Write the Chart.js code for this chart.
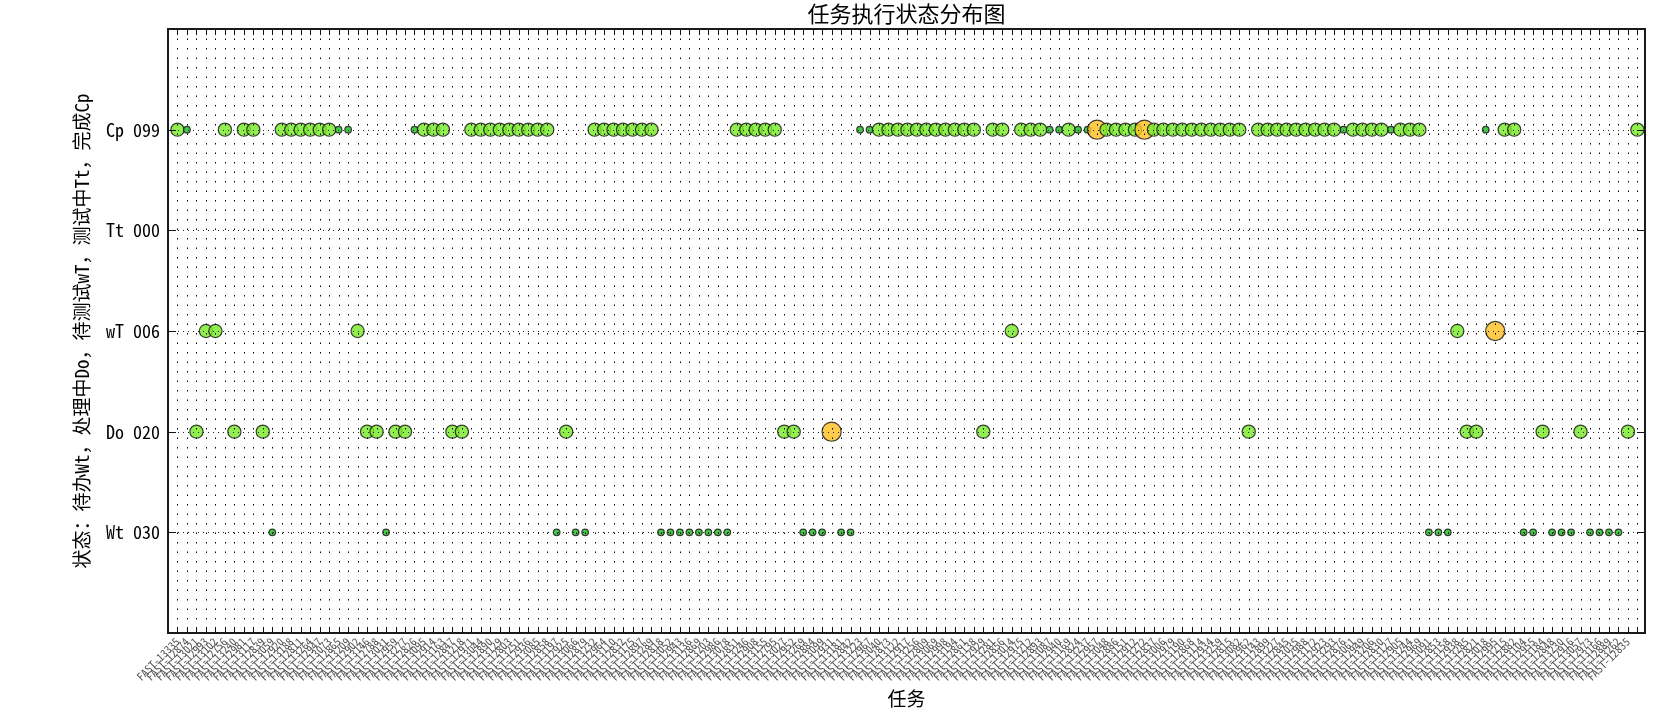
<!DOCTYPE html>
<html>
<head>
<meta charset="utf-8">
<script src="https://cdn.jsdelivr.net/npm/chart.js@4/dist/chart.umd.min.js"></script>
<style>
  html, body { margin: 0; padding: 0; background: #fff; }
  #wrap { width: 1680px; height: 720px; }
</style>
</head>
<body>
<div id="wrap"><canvas id="c" width="1680" height="720"></canvas></div>
<script>
// ---- data ----
const chartTitle = '任务执行状态分布图';
const xAxisTitle = '任务';
const yAxisTitle = '状态：待办Wt，处理中Do，待测试wT，测试中Tt，完成Cp';

const statusLabels = ['Wt 030', 'Do 020', 'wT 006', 'Tt 000', 'Cp 099'];

const tasks = [
  'FAST-13335','FAST-12874','FAST-13021','FAST-12993','FAST-13102','FAST-12756','FAST-13240','FAST-12981','FAST-13117','FAST-12839',
  'FAST-13059','FAST-12920','FAST-13188','FAST-12811','FAST-13264','FAST-12947','FAST-13073','FAST-12865','FAST-13209','FAST-12902',
  'FAST-13146','FAST-12788','FAST-13031','FAST-12959','FAST-13277','FAST-12826','FAST-13095','FAST-12914','FAST-13163','FAST-12847',
  'FAST-13218','FAST-12971','FAST-13044','FAST-12890','FAST-13129','FAST-12803','FAST-13251','FAST-12936','FAST-13085','FAST-12858',
  'FAST-13197','FAST-12925','FAST-13066','FAST-12879','FAST-13232','FAST-12964','FAST-13110','FAST-12832','FAST-13175','FAST-12897',
  'FAST-13289','FAST-12818','FAST-13052','FAST-12943','FAST-13136','FAST-12869','FAST-13203','FAST-12986','FAST-13078','FAST-12851',
  'FAST-13246','FAST-12908','FAST-13155','FAST-12795','FAST-13027','FAST-12952','FAST-13269','FAST-12884','FAST-13099','FAST-12931',
  'FAST-13181','FAST-12842','FAST-13223','FAST-12967','FAST-13040','FAST-12873','FAST-13122','FAST-12917','FAST-13256','FAST-12809',
  'FAST-13069','FAST-12998','FAST-13194','FAST-12861','FAST-13138','FAST-12929','FAST-13281','FAST-12856','FAST-13014','FAST-12975',
  'FAST-13212','FAST-12893','FAST-13087','FAST-12940','FAST-13169','FAST-12824','FAST-13237','FAST-12957','FAST-13048','FAST-12886',
  'FAST-13151','FAST-12912','FAST-13272','FAST-12837','FAST-13006','FAST-12979','FAST-13190','FAST-12868','FAST-13114','FAST-12934',
  'FAST-13259','FAST-12815','FAST-13082','FAST-12962','FAST-13143','FAST-12899','FAST-13227','FAST-12845','FAST-13035','FAST-12988',
  'FAST-13172','FAST-12923','FAST-13293','FAST-12876','FAST-13061','FAST-12949','FAST-13206','FAST-12830','FAST-13127','FAST-12905',
  'FAST-13244','FAST-12969','FAST-13091','FAST-12853','FAST-13158','FAST-12938','FAST-13285','FAST-12821','FAST-13018','FAST-12995',
  'FAST-13215','FAST-12882','FAST-13104','FAST-12955','FAST-13184','FAST-12848','FAST-13230','FAST-12916','FAST-13057','FAST-12973',
  'FAST-13166','FAST-12889','FAST-13262','FAST-12835','FAST-13985'
];

// status index per task (0 = Wt, 1 = Do, 2 = wT, 3 = Tt, 4 = Cp)
const taskStatus = [
  4,4,1,2,2,4,1,4,4,1,
  0,4,4,4,4,4,4,4,4,2,
  1,1,0,1,1,4,4,4,4,1,
  1,4,4,4,4,4,4,4,4,4,
  0,1,0,0,4,4,4,4,4,4,
  4,0,0,0,0,0,0,0,0,4,
  4,4,4,4,1,1,0,0,0,1,
  0,0,4,4,4,4,4,4,4,4,
  4,4,4,4,4,1,4,4,2,4,
  4,4,4,4,4,4,4,4,4,4,
  4,4,4,4,4,4,4,4,4,4,
  4,4,4,1,4,4,4,4,4,4,
  4,4,4,4,4,4,4,4,4,4,
  4,4,0,0,0,2,1,1,4,2,
  4,4,0,0,1,0,0,0,1,0,
  0,0,0,1,4
];

// weight level per task (1 = low, 2 = normal, 3 = high)
const taskLevel = [
  2,1,2,2,2,2,2,2,2,2,
  1,2,2,2,2,2,2,1,1,2,
  2,2,1,2,2,1,2,2,2,2,
  2,2,2,2,2,2,2,2,2,2,
  1,2,1,1,2,2,2,2,2,2,
  2,1,1,1,1,1,1,1,1,2,
  2,2,2,2,2,2,1,1,1,3,
  1,1,1,1,2,2,2,2,2,2,
  2,2,2,2,2,2,2,2,2,2,
  2,2,1,1,2,1,1,3,2,2,
  2,2,3,2,2,2,2,2,2,2,
  2,2,2,2,2,2,2,2,2,2,
  2,2,2,1,2,2,2,2,1,2,
  2,2,1,1,1,2,2,2,1,3,
  2,2,1,1,2,1,1,1,2,1,
  1,1,1,2,2
];

// ---- styles ----
const levelRadius = {1: 3.3, 2: 6.6, 3: 9.6};
const levelFill = {1: 'rgba(40,190,40,0.85)', 2: 'rgba(120,235,40,0.82)', 3: 'rgba(255,190,30,0.8)'};
const FONT = '"Noto Sans Mono CJK SC", "Noto Sans CJK SC", "DejaVu Sans Mono", monospace';
const N = tasks.length;

const points = tasks.map((t, i) => ({x: i, y: taskStatus[i]}));

const overlay = {
  id: 'overlay',
  afterDatasetsDraw(chart) {
    const {ctx, chartArea: a, scales: {x, y}} = chart;
    ctx.save();
    // dotted grid on top of markers
    ctx.strokeStyle = '#000';
    ctx.lineWidth = 1;
    ctx.setLineDash([1.5, 8]);
    for (let i = 0; i < N; i++) {
      const px = Math.round(x.getPixelForValue(i)) + 0.5;
      ctx.beginPath(); ctx.moveTo(px, a.top); ctx.lineTo(px, a.bottom); ctx.stroke();
    }
    ctx.strokeStyle = '#222';
    ctx.setLineDash([1, 4]);
    for (let j = 0; j < statusLabels.length; j++) {
      const py = Math.round(y.getPixelForValue(j)) + 0.5;
      ctx.beginPath(); ctx.moveTo(a.left, py); ctx.lineTo(a.right, py); ctx.stroke();
    }
    ctx.setLineDash([]);
    // inward ticks
    ctx.strokeStyle = '#111';
    ctx.lineWidth = 1;
    for (let i = 0; i < N; i++) {
      const px = Math.round(x.getPixelForValue(i)) + 0.5;
      ctx.beginPath();
      ctx.moveTo(px, a.bottom); ctx.lineTo(px, a.bottom - 6);
      ctx.moveTo(px, a.top); ctx.lineTo(px, a.top + 6);
      ctx.stroke();
    }
    for (let j = 0; j < statusLabels.length; j++) {
      const py = Math.round(y.getPixelForValue(j)) + 0.5;
      ctx.beginPath();
      ctx.moveTo(a.left, py); ctx.lineTo(a.left + 8, py);
      ctx.moveTo(a.right, py); ctx.lineTo(a.right - 8, py);
      ctx.stroke();
    }
    // frame
    ctx.strokeStyle = '#1a1a1a';
    ctx.lineWidth = 2;
    ctx.strokeRect(a.left, a.top, a.width, a.height);
    // titles
    ctx.fillStyle = '#000';
    ctx.textAlign = 'center';
    ctx.textBaseline = 'middle';
    ctx.font = '22px ' + FONT;
    ctx.fillText(chartTitle, (a.left + a.right) / 2, 14);
    ctx.font = '19px ' + FONT;
    ctx.fillText(xAxisTitle, (a.left + a.right) / 2, 699);
    ctx.translate(82, (a.top + a.bottom) / 2);
    ctx.rotate(-Math.PI / 2);
    ctx.fillText(yAxisTitle, 0, 0);
    ctx.restore();
  }
};

new Chart(document.getElementById('c'), {
  type: 'scatter',
  data: {
    datasets: [{
      data: points,
      pointRadius: ctx => levelRadius[taskLevel[ctx.dataIndex]],
      pointHoverRadius: ctx => levelRadius[taskLevel[ctx.dataIndex]],
      backgroundColor: ctx => levelFill[taskLevel[ctx.dataIndex]],
      borderColor: 'rgba(30,30,30,0.85)',
      borderWidth: 1.2
    }]
  },
  options: {
    responsive: false,
    animation: false,
    events: [],
    layout: {padding: {left: 0, right: 35, top: 29, bottom: 0}},
    plugins: {legend: {display: false}, tooltip: {enabled: false}, title: {display: false}},
    scales: {
      x: {
        type: 'linear',
        min: -1,
        max: N - 0.2,
        afterFit: s => { s.height = 87; },
        grid: {display: false, drawTicks: false},
        border: {display: false},
        ticks: {
          stepSize: 1,
          maxTicksLimit: 1000,
          autoSkip: false,
          minRotation: 45,
          maxRotation: 45,
          padding: 2,
          color: '#555',
          font: {family: FONT, size: 11},
          callback: v => (Number.isInteger(v) && tasks[v]) ? tasks[v] : ''
        }
      },
      y: {
        type: 'linear',
        min: -1,
        max: 5,
        afterFit: s => { s.width = 168; },
        grid: {display: false, drawTicks: false},
        border: {display: false},
        ticks: {
          stepSize: 1,
          padding: 8,
          color: '#000',
          font: {family: FONT, size: 18},
          callback: v => statusLabels[v] !== undefined ? statusLabels[v] : ''
        }
      }
    }
  },
  plugins: [overlay]
});
</script>
</body>
</html>
